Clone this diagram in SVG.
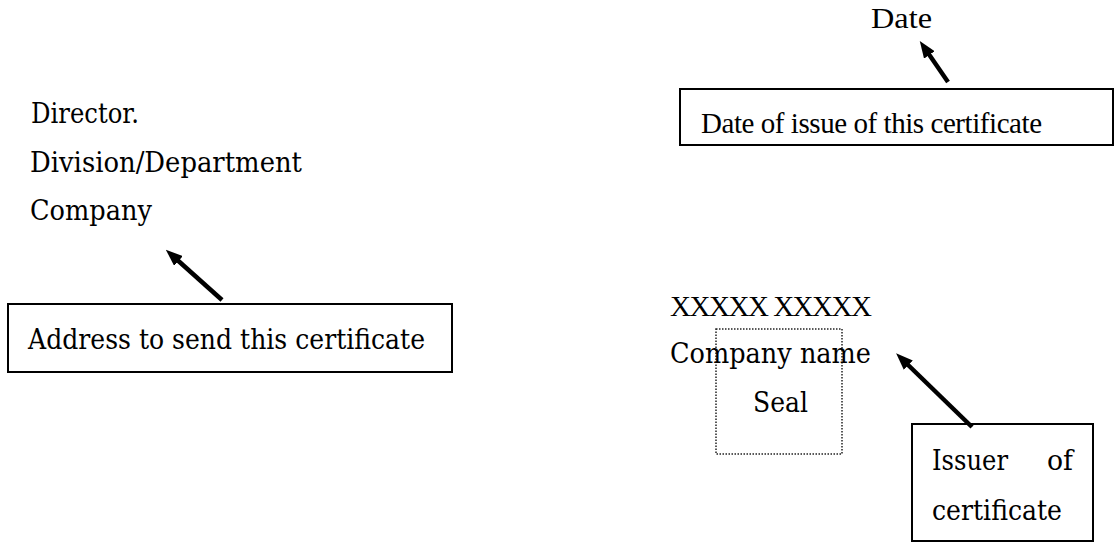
<svg xmlns="http://www.w3.org/2000/svg" width="1115" height="545" viewBox="0 0 1115 545">
  <style>
    .box { fill: #ffffff; stroke: #000000; stroke-width: 2; }
    .seal { fill: none; stroke: #222222; stroke-width: 1.5; stroke-dasharray: 1.5 1.5; }
    .wide { font-family: "DejaVu Serif", "Liberation Serif", serif; font-size: 27px; fill: #000000; }
    .roman { font-family: "Liberation Serif", "Times New Roman", serif; font-size: 29px; fill: #000000; }
    .shaft { stroke: #000000; stroke-width: 4.5; fill: none; marker-end: url(#head); }
  </style>
  <defs>
    <marker id="head" viewBox="0 0 17 13" refX="6" refY="6.5" markerWidth="17" markerHeight="13" markerUnits="userSpaceOnUse" orient="auto">
      <path d="M0,0 L17,6.5 L0,13 z" fill="#000000"/>
    </marker>
  </defs>

  <rect width="1115" height="545" fill="#ffffff"/>

  <!-- recipient address block -->
  <g id="recipient">
    <text class="wide" x="31" y="123" textLength="108" lengthAdjust="spacingAndGlyphs">Director.</text>
    <text class="wide" x="30" y="172" textLength="272" lengthAdjust="spacingAndGlyphs">Division/Department</text>
    <text class="wide" x="30" y="220" textLength="122" lengthAdjust="spacingAndGlyphs">Company</text>
  </g>

  <g id="address-note">
    <rect class="box" x="8" y="304" width="444" height="68"/>
    <text class="wide" x="28" y="349" textLength="397" lengthAdjust="spacingAndGlyphs">Address to send this certificate</text>
  </g>

  <!-- date -->
  <g id="date">
    <text class="roman" x="871" y="28" font-size="31" textLength="61" lengthAdjust="spacingAndGlyphs">Date</text>
  </g>

  <g id="date-note">
    <rect class="box" x="680" y="89" width="433" height="56"/>
    <text class="roman" x="701" y="133" textLength="341" lengthAdjust="spacing">Date of issue of this certificate</text>
  </g>

  <!-- issuer signature and seal -->
  <g id="issuer">
    <text class="roman" x="670" y="316" font-size="28" textLength="202" lengthAdjust="spacing">XXXXX XXXXX</text>
    <rect class="seal" x="716" y="329" width="126" height="125"/>
    <text class="wide" x="670" y="363" textLength="201" lengthAdjust="spacingAndGlyphs">Company name</text>
    <text class="wide" x="753" y="412" textLength="55" lengthAdjust="spacingAndGlyphs">Seal</text>
  </g>

  <g id="issuer-note">
    <rect class="box" x="912" y="424" width="181" height="117"/>
    <text class="wide" x="932" y="470" textLength="76" lengthAdjust="spacingAndGlyphs">Issuer</text>
    <text class="wide" x="1047" y="470" textLength="26" lengthAdjust="spacingAndGlyphs">of</text>
    <text class="wide" x="932" y="520" textLength="130" lengthAdjust="spacingAndGlyphs">certificate</text>
  </g>

  <!-- pointers from notes to the fields they describe -->
  <g id="connectors">
    <line class="shaft" x1="948" y1="82" x2="926" y2="50"/>
    <line class="shaft" x1="222" y1="300" x2="174" y2="257"/>
    <line class="shaft" x1="972" y1="427" x2="904" y2="361"/>
  </g>
</svg>
